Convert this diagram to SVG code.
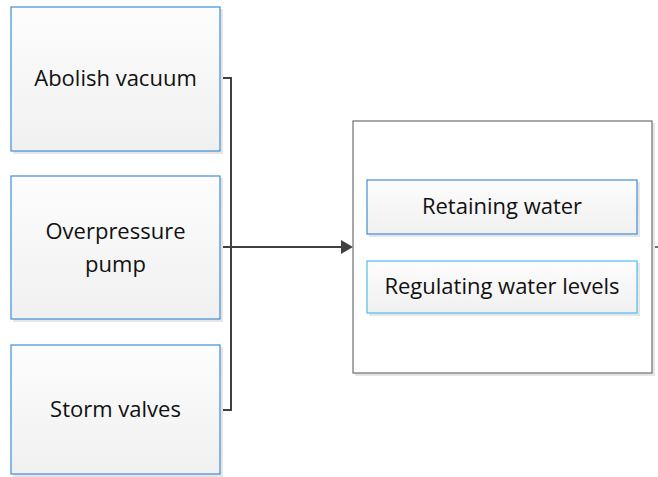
<svg xmlns="http://www.w3.org/2000/svg" width="658" height="477" viewBox="0 0 658 477">
<style>
.box{fill:url(#g);stroke:#3e8ed6;stroke-width:1.2}
.box2{fill:url(#g);stroke:#4cc0ee;stroke-width:1.2}
.sh{fill:#e6e6e6}
.t{font-family:"Open Sans","Noto Sans",sans-serif;font-size:22px;fill:#111;text-anchor:middle}
.c{fill:none;stroke:#404040;stroke-width:2}
</style>
<defs>
<linearGradient id="g" x1="0" y1="0" x2="0" y2="1">
<stop offset="0" stop-color="#fdfdfd"/>
<stop offset="1" stop-color="#f0f0f0"/>
</linearGradient>
</defs>
<rect width="658" height="477" fill="#fff"/>
<g id="connectors">
<path class="c" d="M220,78 H231 V410 H220"/>
<path class="c" d="M220,247 H343" stroke-width="2.5"/>
<path d="M341,240 L353,247 L341,254 Z" fill="#404040"/>
<path d="M652,247 H658" stroke="#404040" stroke-width="1.5"/>
</g>
<g id="n1">
<rect class="sh" x="13" y="9" width="210" height="145"/>
<rect class="box" x="11" y="7" width="209" height="144"/>
<text class="t" x="115.5" y="86">Abolish vacuum</text>
</g>
<g id="n2">
<rect class="sh" x="13" y="178" width="210" height="144"/>
<rect class="box" x="11" y="176" width="209" height="143"/>
<text class="t" x="115.5" y="239">Overpressure</text>
<text class="t" x="115.5" y="272">pump</text>
</g>
<g id="n3">
<rect class="sh" x="13" y="347" width="210" height="130"/>
<rect class="box" x="11" y="345" width="209" height="129"/>
<text class="t" x="115.5" y="417">Storm valves</text>
</g>
<g id="container">
<rect class="sh" x="355" y="123" width="300" height="253"/>
<rect x="353" y="121" width="299" height="252" fill="#fff" stroke="#6e6e6e" stroke-width="1.2"/>
<g id="n4">
<rect class="sh" x="369" y="182" width="271" height="55"/>
<rect class="box" x="367" y="180" width="270" height="54"/>
<text class="t" x="502" y="214">Retaining water</text>
</g>
<g id="n5">
<rect class="sh" x="369" y="263" width="271" height="53"/>
<rect class="box2" x="367" y="261" width="270" height="52"/>
<text class="t" x="502" y="294">Regulating water levels</text>
</g>
</g>
</svg>
